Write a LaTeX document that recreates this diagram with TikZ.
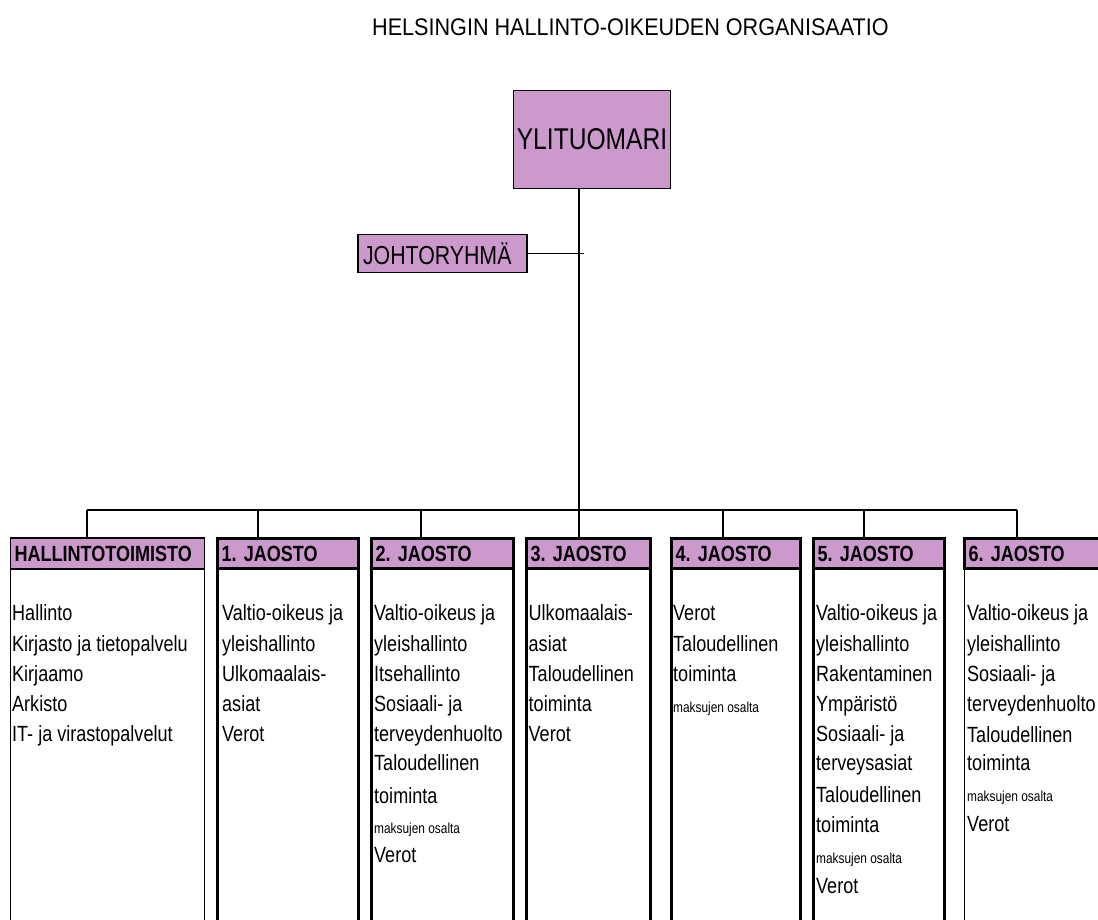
\documentclass[tikz,border=0pt]{standalone}
\usepackage{fontspec}
\setmainfont{Liberation Sans}
\newfontfamily\kapea[FakeStretch=0.82]{Liberation Sans}
\newfontfamily\otsikkofontti[FakeStretch=0.9]{Liberation Sans}
\newcommand{\pieni}{\fontsize{14.5}{17}\selectfont}
\definecolor{liila}{RGB}{204,153,204}
\frenchspacing
\tikzset{
  ohut/.style={line width=1.2pt},
  paksu/.style={line width=3pt},
  otsake/.style={draw, fill=liila, outer sep=0pt, inner xsep=4pt, inner ysep=0pt,
                 minimum height=30pt, align=left, anchor=north west,
                 font=\kapea\bfseries\fontsize{22}{26}\selectfont},
  rivi/.style={anchor=base west, inner sep=0pt, font=\kapea\fontsize{22}{26}\selectfont},
}

\begin{document}
\begin{tikzpicture}[x=1pt, y=-1pt]
\useasboundingbox (0,0) rectangle (1098,919);

% Title
\node[anchor=base west, inner sep=0pt, font=\otsikkofontti\fontsize{24}{28}\selectfont]
  (otsikko) at (372,35) {HELSINGIN HALLINTO-OIKEUDEN ORGANISAATIO};

% Top boxes
\node[draw, fill=liila, ohut, minimum width=157pt, minimum height=98pt,
      font=\kapea\fontsize{30}{34}\selectfont] (yli) at (592,139.5) {YLITUOMARI};
\node[draw, fill=liila, ohut, minimum height=38pt, text width=159pt, inner xsep=5pt,
      align=left, font=\kapea\fontsize{26}{30}\selectfont] (johto) at (442.5,253.5) {JOHTORYHMÄ};

% Headers
\node[otsake, ohut, text width=186pt, minimum height=31pt] (o0) at (10.5,538) {HALLINTOTOIMISTO};
\node[otsake, paksu, text width=133pt] (o1) at (217.5,538.5) {1. JAOSTO};
\node[otsake, paksu, text width=134pt] (o2) at (371.5,538.5) {2. JAOSTO};
\node[otsake, paksu, text width=116pt] (o3) at (526.5,538.5) {3. JAOSTO};
\node[otsake, paksu, text width=121pt] (o4) at (671.5,538.5) {4. JAOSTO};
\node[otsake, paksu, text width=123pt] (o5) at (813.5,538.5) {5. JAOSTO};
\node[otsake, paksu, text width=137.5pt] (o6) at (964.5,538.5) {6. JAOSTO};

% Box bodies (run past the bottom edge)
\draw[ohut] (o0.south west) rectangle ([yshift=-380pt]o0.south east);
\foreach \i in {1,...,5}
  \draw[paksu] (o\i.south west) rectangle ([yshift=-380pt]o\i.south east);
\draw[ohut] (o6.south west) rectangle ([yshift=-380pt]o6.south east);

% Connectors
\coordinate (v0) at (87,510);
\coordinate (v1) at (258,510);
\coordinate (v2) at (421,510);
\coordinate (v3) at (579,510);
\coordinate (v4) at (723,510);
\coordinate (v5) at (864,510);
\coordinate (v6) at (1017,510);
\coordinate (jtick) at (584,253.5);
\draw[ohut] (yli.south -| v3) -- (v3);
\draw[ohut] (johto.east) -- (jtick);
\draw[ohut] (v0) -- (v6);
\foreach \i in {0,...,6}
  \draw[ohut] (v\i) -- (v\i |- o\i.north);

% Texts
\foreach \y/\rivi in {620/Hallinto, 651/Kirjasto ja tietopalvelu, 681/Kirjaamo,
                      711/Arkisto, 741/IT- ja virastopalvelut}
  \node[rivi] (h\y) at (12,\y) {\rivi};
\foreach \y/\rivi in {620/Valtio-oikeus ja, 651/yleishallinto, 681/Ulkomaalais-,
                      711/asiat, 741/Verot}
  \node[rivi] (a\y) at (222,\y) {\rivi};
\foreach \y/\rivi in {620/Valtio-oikeus ja, 651/yleishallinto, 681/Itsehallinto,
                      711/Sosiaali- ja, 741/terveydenhuolto, 770/Taloudellinen,
                      803/toiminta, 833/\pieni maksujen osalta, 862/Verot}
  \node[rivi] (b\y) at (374,\y) {\rivi};
\foreach \y/\rivi in {620/Ulkomaalais-, 651/asiat, 681/Taloudellinen,
                      711/toiminta, 741/Verot}
  \node[rivi] (c\y) at (528.5,\y) {\rivi};
\foreach \y/\rivi in {620/Verot, 651/Taloudellinen, 681/toiminta,
                      712/\pieni maksujen osalta}
  \node[rivi] (d\y) at (673,\y) {\rivi};
\foreach \y/\rivi in {620/Valtio-oikeus ja, 651/yleishallinto, 681/Rakentaminen,
                      711/Ympäristö, 741/Sosiaali- ja, 770/terveysasiat,
                      802/Taloudellinen, 832/toiminta, 863/\pieni maksujen osalta, 893/Verot}
  \node[rivi] (e\y) at (816,\y) {\rivi};
\foreach \y/\rivi in {620/Valtio-oikeus ja, 651/yleishallinto, 681/Sosiaali- ja,
                      711/terveydenhuolto, 742/Taloudellinen, 770/toiminta,
                      801/\pieni maksujen osalta, 831/Verot}
  \node[rivi] (f\y) at (967,\y) {\rivi};

\end{tikzpicture}
\end{document}
